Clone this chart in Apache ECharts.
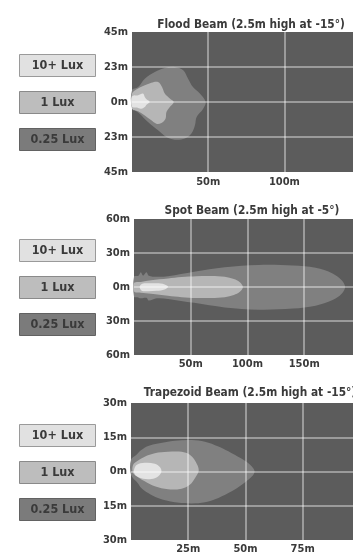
<!DOCTYPE html>
<html>
<head>
<meta charset="utf-8">
<script src="https://cdn.jsdelivr.net/npm/echarts@6/dist/echarts.min.js"></script>
<style>
html,body{margin:0;padding:0;background:#fff;}
#c{width:353px;height:555px;}
</style>
</head>
<body>
<div id="c"></div>
<script>
// ---------- data ----------
var titles = ['Flood Beam (2.5m high at -15°)', 'Spot Beam (2.5m high at -5°)', 'Trapezoid Beam (2.5m high at -15°)'];
var legendLabels = ['10+ Lux', '1 Lux', '0.25 Lux'];

var floodXTicks = [50, 100];
var floodXLabels = ['50m', '100m'];
var floodYTicks = [45, 22.5, 0, -22.5, -45];
var floodYLabels = ['45m', '23m', '0m', '23m', '45m'];

var spotXTicks = [50, 100, 150];
var spotXLabels = ['50m', '100m', '150m'];
var spotYTicks = [60, 30, 0, -30, -60];
var spotYLabels = ['60m', '30m', '0m', '30m', '60m'];

var trapXTicks = [25, 50, 75];
var trapXLabels = ['25m', '50m', '75m'];
var trapYTicks = [30, 15, 0, -15, -30];
var trapYLabels = ['30m', '15m', '0m', '15m', '30m'];

// beam contours [distance m, lateral m]
var floodLow = [[0,7.5],[4,9.6],[8.4,15],[15,19.3],[21.5,21.9],[28,22.5],[33.6,20.4],[36.8,15],[40,9.6],[44.5,5.4],[48.3,0],[46.7,-4.3],[42.4,-9.6],[41.3,-15],[39,-20.3],[34.7,-23.5],[28,-24.2],[22.6,-22.5],[17.1,-18.2],[10.5,-12.8],[5,-7.5],[0,-3.2]];
var floodMid = [[0,5.4],[4,8.6],[8.4,10.7],[12.7,12.4],[17.1,12.9],[19.7,9.6],[21.5,5.4],[24.8,2.2],[27.4,0],[24.8,-3.2],[22.6,-6.4],[22,-10.7],[19.3,-13.5],[16,-14],[12.7,-11.8],[8.4,-8.6],[4,-6],[0,-4.3]];
var floodHigh = [[0,3.5],[4,4.3],[7.2,5.4],[8.4,3.2],[9.5,1.7],[11.6,0],[9.5,-1.7],[8.4,-3.2],[6,-4.3],[3,-3.6],[0,-3]];

var spotLow = [[0,9],[4,10],[6,13],[8,10],[11,13],[13,10],[20,9],[30,9.5],[53,13.5],[80,17.5],[110,19.5],[140,19],[160,17],[175,12],[183,6],[186,0],[183,-6],[175,-11.5],[160,-16.5],[140,-19],[110,-20],[80,-18],[53,-14],[30,-10.5],[20,-10],[13,-12],[11,-9.5],[6,-10],[3,-9],[0,-8.5]];
var spotMid = [[0,3.5],[6,4.5],[15,6],[30,7.5],[42,8.8],[55,9.5],[68,9.7],[80,9],[88,7],[93,4.5],[96,0],[93,-4.5],[88,-7],[80,-9],[68,-9.7],[55,-9.7],[42,-9],[30,-7.8],[15,-6],[6,-5],[0,-4]];
var spotHigh = [[5,0],[6.5,2.5],[10,3.3],[20,3.2],[27,2.3],[30,0.3],[27,-2.2],[20,-3.4],[10,-3.7],[6.5,-3]];

var trapLow = [[0,5.1],[2.4,7.3],[4.5,9.4],[7.5,11.2],[11.8,12.3],[19.2,13.5],[26.5,13.8],[32.3,13],[38.2,10.9],[44,8],[49.1,5.1],[52.8,2.2],[54,0],[52.8,-2.2],[48.4,-5.8],[44,-8.7],[38.2,-11.6],[32.3,-13.5],[26.5,-14],[19.2,-13.5],[11.8,-11.6],[7.5,-9.4],[4.5,-7.2],[3,-5.1],[0,-1.4]];
var trapMid = [[0.9,2.9],[3.1,4.8],[6,6.5],[10.4,8],[16.2,8.6],[22.1,8.6],[25.7,7.3],[28.2,4.4],[29.6,0.5],[28.2,-2.5],[25.7,-5.8],[22.1,-7.5],[16.2,-7.8],[10.4,-6.5],[6,-4.3],[3.1,-2.5],[0.9,-0.7]];
var trapHigh = [[1.3,0.7],[2.4,2.9],[6,3.8],[10.4,3.4],[12.6,2],[13.3,0],[11.8,-2.2],[8.9,-3.3],[5.3,-3.2],[2.4,-2],[1.3,-0.4]];

// ---------- style ----------
var FONT = "'DejaVu Sans Condensed','Liberation Sans Narrow',sans-serif";
var TXT = '#3a3a3a';
var PLOT_BG = '#5c5c5c';
var GRIDLINE = 'rgba(255,255,255,0.52)';
var levelColors = ['#e3e3e3', '#b6b6b6', '#808080'];
var legendFill = ['#e1e1e1', '#bdbdbd', '#7b7b7b'];
var legendBorder = ['#9a9a9a', '#8a8a8a', '#626262'];

var grids = [
  {left: 132, top: 32, right: 0, height: 140},
  {left: 134, top: 219, right: 0, height: 136},
  {left: 131, top: 403, right: 0, height: 138}
];
var xRanges = [[0, 145, 50], [0, 193, 50], [0, 97, 25]];
var yRanges = [[-45, 45, 22.5], [-60, 60, 30], [-30, 30, 15]];
var xTickSets = [[floodXTicks, floodXLabels], [spotXTicks, spotXLabels], [trapXTicks, trapXLabels]];
var yTickSets = [[floodYTicks, floodYLabels], [spotYTicks, spotYLabels], [trapYTicks, trapYLabels]];
var shapes = [[floodLow, floodMid, floodHigh], [spotLow, spotMid, spotHigh], [trapLow, trapMid, trapHigh]];
var titleTops = [14, 200, 382];
var titleLefts = [246, 247, 245];
var xLabelMargins = [5, 4, 4];

function lookup(set) {
  return function (v) {
    for (var i = 0; i < set[0].length; i++) {
      if (Math.abs(set[0][i] - v) < 1e-6) return set[1][i];
    }
    return '';
  };
}

function polygonRenderer(points, color) {
  return function (params, api) {
    if (params.dataIndex !== 0) return null;
    var pts = points.map(function (p) { return api.coord(p); });
    return {
      type: 'polygon',
      shape: {points: pts, smooth: 0.35},
      style: {fill: color, stroke: null}
    };
  };
}

function buildOption() {
  var option = {
    animation: false,
    backgroundColor: '#ffffff',
    title: [], grid: [], xAxis: [], yAxis: [], series: [], graphic: []
  };
  var levelNames = ['0.25 Lux', '1 Lux', '10+ Lux'];
  var colorIdx = [2, 1, 0];
  for (var k = 0; k < 3; k++) {
    option.title.push({
      text: titles[k], left: titleLefts[k], top: titleTops[k], textAlign: 'center',
      textStyle: {fontFamily: FONT, fontWeight: 'bold', fontSize: 11.8, color: TXT}
    });
    var g = grids[k];
    option.grid.push({
      left: g.left, top: g.top, right: g.right, height: g.height,
      show: true, backgroundColor: PLOT_BG, borderWidth: 0
    });
    option.xAxis.push({
      type: 'value', gridIndex: k, min: xRanges[k][0], max: xRanges[k][1], interval: xRanges[k][2],
      z: 5,
      axisLine: {show: false}, axisTick: {show: false},
      axisLabel: {
        show: true, margin: xLabelMargins[k], formatter: lookup(xTickSets[k]),
        showMinLabel: false, showMaxLabel: false,
        fontFamily: FONT, fontWeight: 'bold', fontSize: 11, color: TXT
      },
      splitLine: {show: true, showMinLine: false, showMaxLine: false, lineStyle: {color: GRIDLINE, width: 1.5}}
    });
    option.yAxis.push({
      type: 'value', gridIndex: k, min: yRanges[k][0], max: yRanges[k][1], interval: yRanges[k][2],
      z: 5,
      axisLine: {show: false}, axisTick: {show: false},
      axisLabel: {
        show: true, margin: 4, formatter: lookup(yTickSets[k]),
        fontFamily: FONT, fontWeight: 'bold', fontSize: 11, color: TXT
      },
      splitLine: {show: true, showMinLine: false, showMaxLine: false, lineStyle: {color: GRIDLINE, width: 1.5}}
    });
    for (var s = 0; s < 3; s++) {
      option.series.push({
        type: 'custom', name: levelNames[s], xAxisIndex: k, yAxisIndex: k,
        z: 2 + s,
        renderItem: polygonRenderer(shapes[k][s], levelColors[colorIdx[s]]),
        encode: {x: 0, y: 1},
        data: shapes[k][s],
        silent: true
      });
    }
    var yc = g.top + g.height / 2;
    for (var b = 0; b < 3; b++) {
      var boxTop = yc - 11 + (b - 1) * 37;
      option.graphic.push({
        type: 'group', left: 19, top: boxTop,
        children: [
          {type: 'rect', shape: {x: 0, y: 0, width: 76, height: 22},
            style: {fill: legendFill[b], stroke: legendBorder[b], lineWidth: 1}},
          {type: 'text', x: 38, y: 11,
            style: {text: legendLabels[b], fill: TXT, font: 'bold 12.5px ' + FONT,
              textAlign: 'center', textVerticalAlign: 'middle'}}
        ]
      });
    }
  }
  return option;
}

var chart = echarts.init(document.getElementById('c'), null, {renderer: 'canvas'});
chart.setOption(buildOption());
</script>
</body>
</html>
